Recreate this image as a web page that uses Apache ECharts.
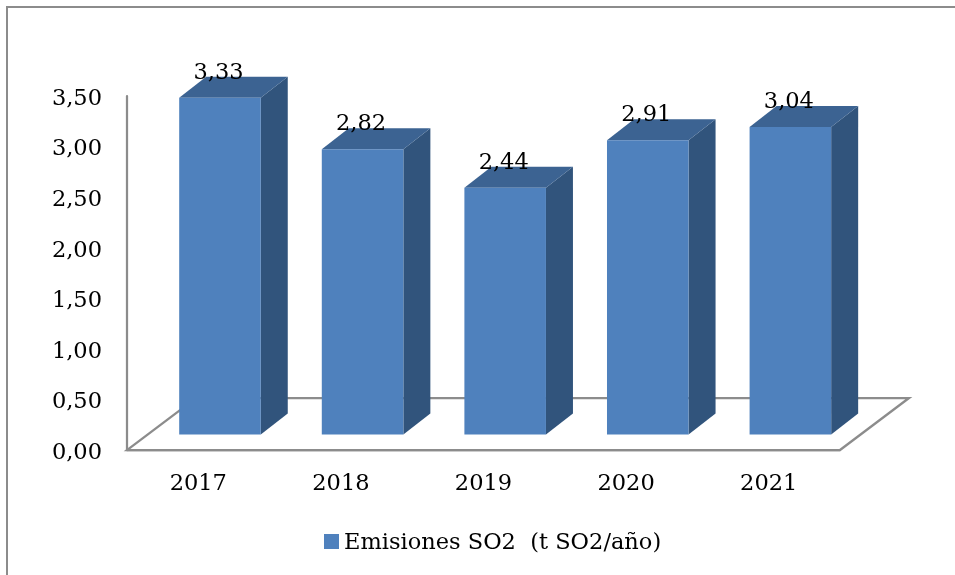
<!DOCTYPE html>
<html>
<head>
<meta charset="utf-8">
<script src="https://cdn.jsdelivr.net/npm/echarts@6/dist/echarts.min.js"></script>
<style>html,body{margin:0;padding:0;background:#fff}#c{width:955px;height:575px}</style>
</head>
<body>
<div id="c"></div>
<script>
const categories = ['2017', '2018', '2019', '2020', '2021'];
const emissions = [3.33, 2.82, 2.44, 2.91, 3.04];
const seriesName = 'Emisiones SO2  (t SO2/año)';
const fontFamily = '"DejaVu Serif", serif';
const fmt = v => v.toFixed(2).replace('.', ',');

const chart = echarts.init(document.getElementById('c'), null, {renderer: 'canvas'});

function renderBar(params, api) {
  const cat = api.value(0), val = api.value(1);
  const top = api.coord([cat, val]);
  const base = api.coord([cat, 0]);
  const band = api.size([1, 0])[0];
  const barW = band * 0.572, shift = band * 0.152, lift = 15.5;
  const dx = 27, dy = 21;
  const x0 = top[0] + shift - barW / 2, x1 = x0 + barW;
  const yT = top[1] - lift, yB = base[1] - lift;
  return {
    type: 'group',
    children: [
      {type: 'polygon', shape: {points: [[x1, yT], [x1 + dx, yT - dy], [x1 + dx, yB - dy], [x1, yB]]}, style: {fill: '#31547c'}},
      {type: 'polygon', shape: {points: [[x0, yT], [x0 + dx, yT - dy], [x1 + dx, yT - dy], [x1, yT]]}, style: {fill: '#3c6392'}},
      {type: 'rect', shape: {x: x0, y: yT, width: barW, height: yB - yT}, style: {fill: '#4f81bd'}},
      {type: 'text', x: (x0 + x1) / 2 - 1.5, y: yT - 25, style: {text: fmt(val), fill: '#000', font: '22.5px ' + fontFamily, textAlign: 'center', textVerticalAlign: 'middle'}}
    ]
  };
}

function renderFloor(params) {
  const g = params.coordSys;
  const l = g.x, r = g.x + g.width, b = g.y + g.height;
  const dx = 69, dy = 52;
  return {
    type: 'polygon',
    shape: {points: [[l, b], [r, b], [r + dx, b - dy], [l + dx, b - dy]]},
    style: {fill: 'none', stroke: '#8c8c8c', lineWidth: 2.25}
  };
}

chart.setOption({
  animation: false,
  backgroundColor: '#fff',
  graphic: [
    {type: 'polyline', silent: true, shape: {points: [[7, 575], [7, 7], [955, 7]]}, style: {fill: 'none', stroke: '#8c8c8c', lineWidth: 2}}
  ],
  grid: {left: 127, top: 96, width: 713, height: 354, containLabel: false},
  legend: {
    show: true, top: 527, left: 319, itemWidth: 15, itemHeight: 15, itemGap: 6, icon: 'rect',
    data: [seriesName],
    formatter: n => '{a|' + n + '}',
    textStyle: {fontFamily, fontSize: 22.5, color: '#000', rich: {a: {fontFamily, fontSize: 22.5, color: '#000', padding: [4, 0, 0, 0]}}}
  },
  xAxis: {
    type: 'category', data: categories,
    axisLine: {show: true, lineStyle: {color: '#8c8c8c', width: 2.25}},
    axisTick: {show: false},
    axisLabel: {fontFamily, fontSize: 22.5, color: '#000', margin: 23}
  },
  yAxis: {
    type: 'value', min: 0, max: 3.5, interval: 0.5,
    axisLine: {show: true, lineStyle: {color: '#8c8c8c', width: 2.25}},
    axisTick: {show: false},
    splitLine: {show: false},
    axisLabel: {fontFamily, fontSize: 22.5, color: '#000', margin: 25, verticalAlign: 'top', lineHeight: 6, formatter: v => fmt(v)}
  },
  series: [
    {type: 'custom', coordinateSystem: 'cartesian2d', silent: true, z: 1, renderItem: renderFloor, data: [[0, 0]], clip: false, legendHoverLink: false},
    {name: seriesName, type: 'custom', coordinateSystem: 'cartesian2d', z: 2, renderItem: renderBar, clip: false,
      itemStyle: {color: '#4f81bd'},
      encode: {x: 0, y: 1},
      data: categories.map((c, i) => [i, emissions[i]])}
  ]
});
</script>
</body>
</html>
